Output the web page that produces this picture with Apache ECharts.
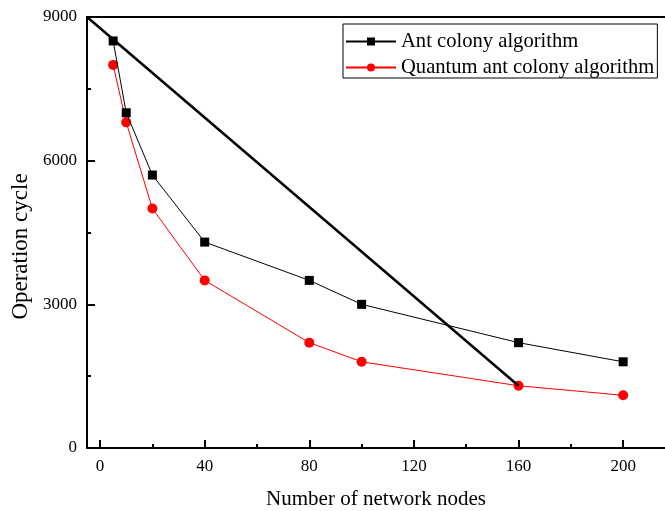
<!DOCTYPE html>
<html><head><meta charset="utf-8">
<script src="https://cdn.jsdelivr.net/npm/echarts@6/dist/echarts.min.js"></script>
<style>html,body{margin:0;padding:0;background:#fff}#c{width:665px;height:511px}</style>
</head><body><div id="c"></div>
<script>
var nodes = [5, 10, 20, 40, 80, 100, 160, 200];
var antColony = [8500, 7000, 5700, 4300, 3500, 3000, 2200, 1800];
var quantumAnt = [8000, 6800, 5000, 3500, 2200, 1800, 1300, 1100];
var diagX = [-5, 160];
var diagY = [9000, 1300];
var xTicks = [0, 40, 80, 120, 160, 200];
var xMinor = [20, 60, 100, 140, 180];
var yTicks = [0, 3000, 6000, 9000];
var seriesNames = ['Ant colony algorithm', 'Quantum ant colony algorithm'];
var xName = 'Number of network nodes';
var yName = 'Operation cycle';

var font = 'Liberation Serif';
var chart = echarts.init(document.getElementById('c'));
function pairs(xs, ys){ return xs.map(function(x,i){return [x, ys[i]];}); }
chart.setOption({
  animation: false,
  backgroundColor: '#fff',
  grid: {left: 87, right: 0, top: 17, bottom: 63, containLabel: false, outerBoundsMode: 'none'},
  legend: {
    left: 343, top: 24, orient: 'vertical',
    data: seriesNames,
    itemWidth: 50, itemHeight: 10, itemGap: 5,
    padding: [7, 3, 0, 2],
    borderColor: '#000', borderWidth: 1,
    textStyle: {fontFamily: font, fontSize: 20.6, color: '#000'}
  },
  xAxis: [{
    type: 'value', min: -5, max: 216, position: 'bottom',
    name: xName, nameLocation: 'middle', nameGap: 41,
    nameTextStyle: {fontFamily: font, fontSize: 21, color: '#000'},
    axisLine: {onZero: false, lineStyle: {color: '#000', width: 2}},
    axisTick: {inside: true, length: 8, lineStyle: {color: '#000', width: 2}, customValues: xTicks},
    axisLabel: {customValues: xTicks, fontFamily: font, fontSize: 17, color: '#000', margin: 10},
    splitLine: {show: false}
  }, {
    type: 'value', min: -5, max: 216, position: 'bottom', gridIndex: 0,
    axisLine: {show: false, onZero: false},
    axisTick: {inside: true, length: 4, lineStyle: {color: '#000', width: 2}, customValues: xMinor},
    axisLabel: {show: false},
    splitLine: {show: false}
  }, {
    type: 'value', min: -5, max: 216, position: 'top',
    axisLine: {show: true, onZero: false, lineStyle: {color: '#000', width: 2}},
    axisTick: {show: false},
    axisLabel: {show: false},
    splitLine: {show: false}
  }],
  yAxis: {
    type: 'value', min: 0, max: 9000, interval: 3000,
    name: yName, nameLocation: 'middle', nameGap: 45,
    nameTextStyle: {fontFamily: font, fontSize: 23, color: '#000', padding: [0, 28, 0, 0]},
    axisLine: {show: true, onZero: false, lineStyle: {color: '#000', width: 2}},
    axisTick: {inside: true, length: 8, lineStyle: {color: '#000', width: 2}},
    minorTick: {show: true, splitNumber: 2, length: 4, lineStyle: {color: '#000', width: 2}},
    axisLabel: {fontFamily: font, fontSize: 17, color: '#000', margin: 10,
      formatter: function(v){ return yTicks.indexOf(v) >= 0 ? String(v) : ''; }},
    splitLine: {show: false}
  },
  series: [{
    name: seriesNames[0], type: 'line', data: pairs(nodes, antColony),
    symbol: 'rect', symbolSize: 9, color: '#000',
    lineStyle: {color: '#000', width: 1}, itemStyle: {color: '#000'}, z: 3
  }, {
    name: seriesNames[1], type: 'line', data: pairs(nodes, quantumAnt),
    symbol: 'circle', symbolSize: 10, color: '#ff0000',
    lineStyle: {color: '#ff0000', width: 1}, itemStyle: {color: '#ff0000'}, z: 2
  }, {
    name: 'diag', type: 'line', data: pairs(diagX, diagY),
    symbol: 'none', lineStyle: {color: '#000', width: 2.5}, z: 4, silent: true
  }]
});
</script></body></html>
